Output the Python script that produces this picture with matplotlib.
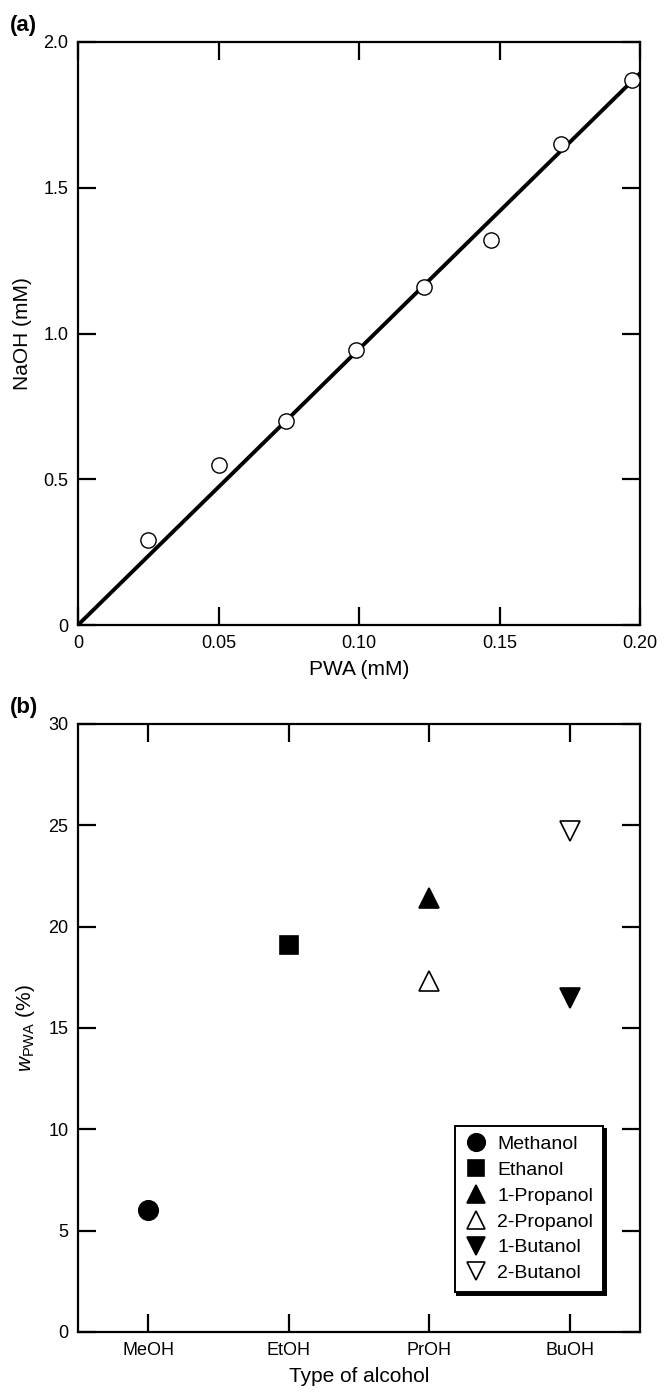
import numpy as np
import matplotlib
matplotlib.use("Agg")
from matplotlib import pyplot as plt

plt.rcParams['font.family'] = ['Liberation Sans', 'DejaVu Sans']
plt.rcParams['mathtext.fontset'] = 'custom'
plt.rcParams['mathtext.it'] = 'Liberation Sans:italic'
plt.rcParams['mathtext.rm'] = 'Liberation Sans'

# (a) titration data
pwa = [0.025, 0.050, 0.074, 0.099, 0.123, 0.147, 0.172, 0.197]
naoh = [0.29, 0.55, 0.70, 0.945, 1.16, 1.32, 1.65, 1.87]

# (b) PWA content by alcohol
alcohol_types = ['MeOH', 'EtOH', 'PrOH', 'BuOH']
alcohols = ['Methanol', 'Ethanol', '1-Propanol', '2-Propanol', '1-Butanol', '2-Butanol']
alcohol_pos = [1, 2, 3, 3, 4, 4]
w_pwa = [6.0, 19.1, 21.4, 17.3, 16.5, 24.7]
markers = ['o', 's', '^', '^', 'v', 'v']
filled = [True, True, True, False, True, False]

fig = plt.figure(figsize=(6.65, 13.92), dpi=100)
W, H = 665, 1392
ax1 = fig.add_axes([78 / W, 1 - 625 / H, (640 - 78) / W, (625 - 42) / H])
ax2 = fig.add_axes([78 / W, 1 - 1332 / H, (640 - 78) / W, (1332 - 724) / H])


def style(ax):
    for s in ax.spines.values():
        s.set_linewidth(1.6)
    ax.tick_params(direction='in', length=13, width=1.6, top=True, right=True,
                   labelsize=13, pad=7)


# panel (a)
x = np.array(pwa)
y = np.array(naoh)
slope = np.sum(x * y) / np.sum(x * x)
xl = np.array([0, 0.2])
ax1.plot(xl, slope * xl, color='black', lw=2.8, zorder=2)
ax1.plot(pwa, naoh, 'o', ms=11, mfc='white', mec='black', mew=1.0, zorder=3)
ax1.set_xlim(0, 0.2)
ax1.set_ylim(0, 2.0)
ax1.set_xticks([0, 0.05, 0.10, 0.15, 0.20])
ax1.set_xticklabels(['0', '0.05', '0.10', '0.15', '0.20'])
ax1.set_yticks([0, 0.5, 1.0, 1.5, 2.0])
ax1.set_yticklabels(['0', '0.5', '1.0', '1.5', '2.0'])
ax1.set_xlabel('PWA (mM)', fontsize=15, labelpad=6)
ax1.set_ylabel('NaOH (mM)', fontsize=15, labelpad=8)
style(ax1)
fig.text(10 / W, 1 - 26 / H, '(a)', fontsize=16, fontweight='bold', va='center')

# panel (b)
for name, xp, v, m, f in zip(alcohols, alcohol_pos, w_pwa, markers, filled):
    ax2.plot([xp], [v], linestyle='none', marker=m, ms=14 if m != 's' else 13,
             mfc='black' if f else 'white', mec='black', mew=1.2, label=name)
ax2.set_xlim(0.5, 4.5)
ax2.set_ylim(0, 30)
ax2.set_xticks([1, 2, 3, 4])
ax2.set_xticklabels(alcohol_types)
ax2.set_yticks([0, 5, 10, 15, 20, 25, 30])
ax2.set_xlabel('Type of alcohol', fontsize=15, labelpad=6)
ax2.set_ylabel(r'$w_{\mathrm{PWA}}$ (%)', fontsize=15, labelpad=8)
style(ax2)
leg = ax2.legend(loc='lower right', bbox_to_anchor=(0.934, 0.066), borderaxespad=0,
                 frameon=True, fancybox=False, shadow={'color': 'black', 'alpha': 1.0},
                 edgecolor='black', fontsize=14, handletextpad=0.5,
                 labelspacing=0.42, borderpad=0.5, handlelength=1.2, markerscale=0.9)
leg.get_frame().set_linewidth(1.4)
fig.text(10 / W, 1 - 707 / H, '(b)', fontsize=16, fontweight='bold', va='center')

fig.savefig('out.png', dpi=100)
